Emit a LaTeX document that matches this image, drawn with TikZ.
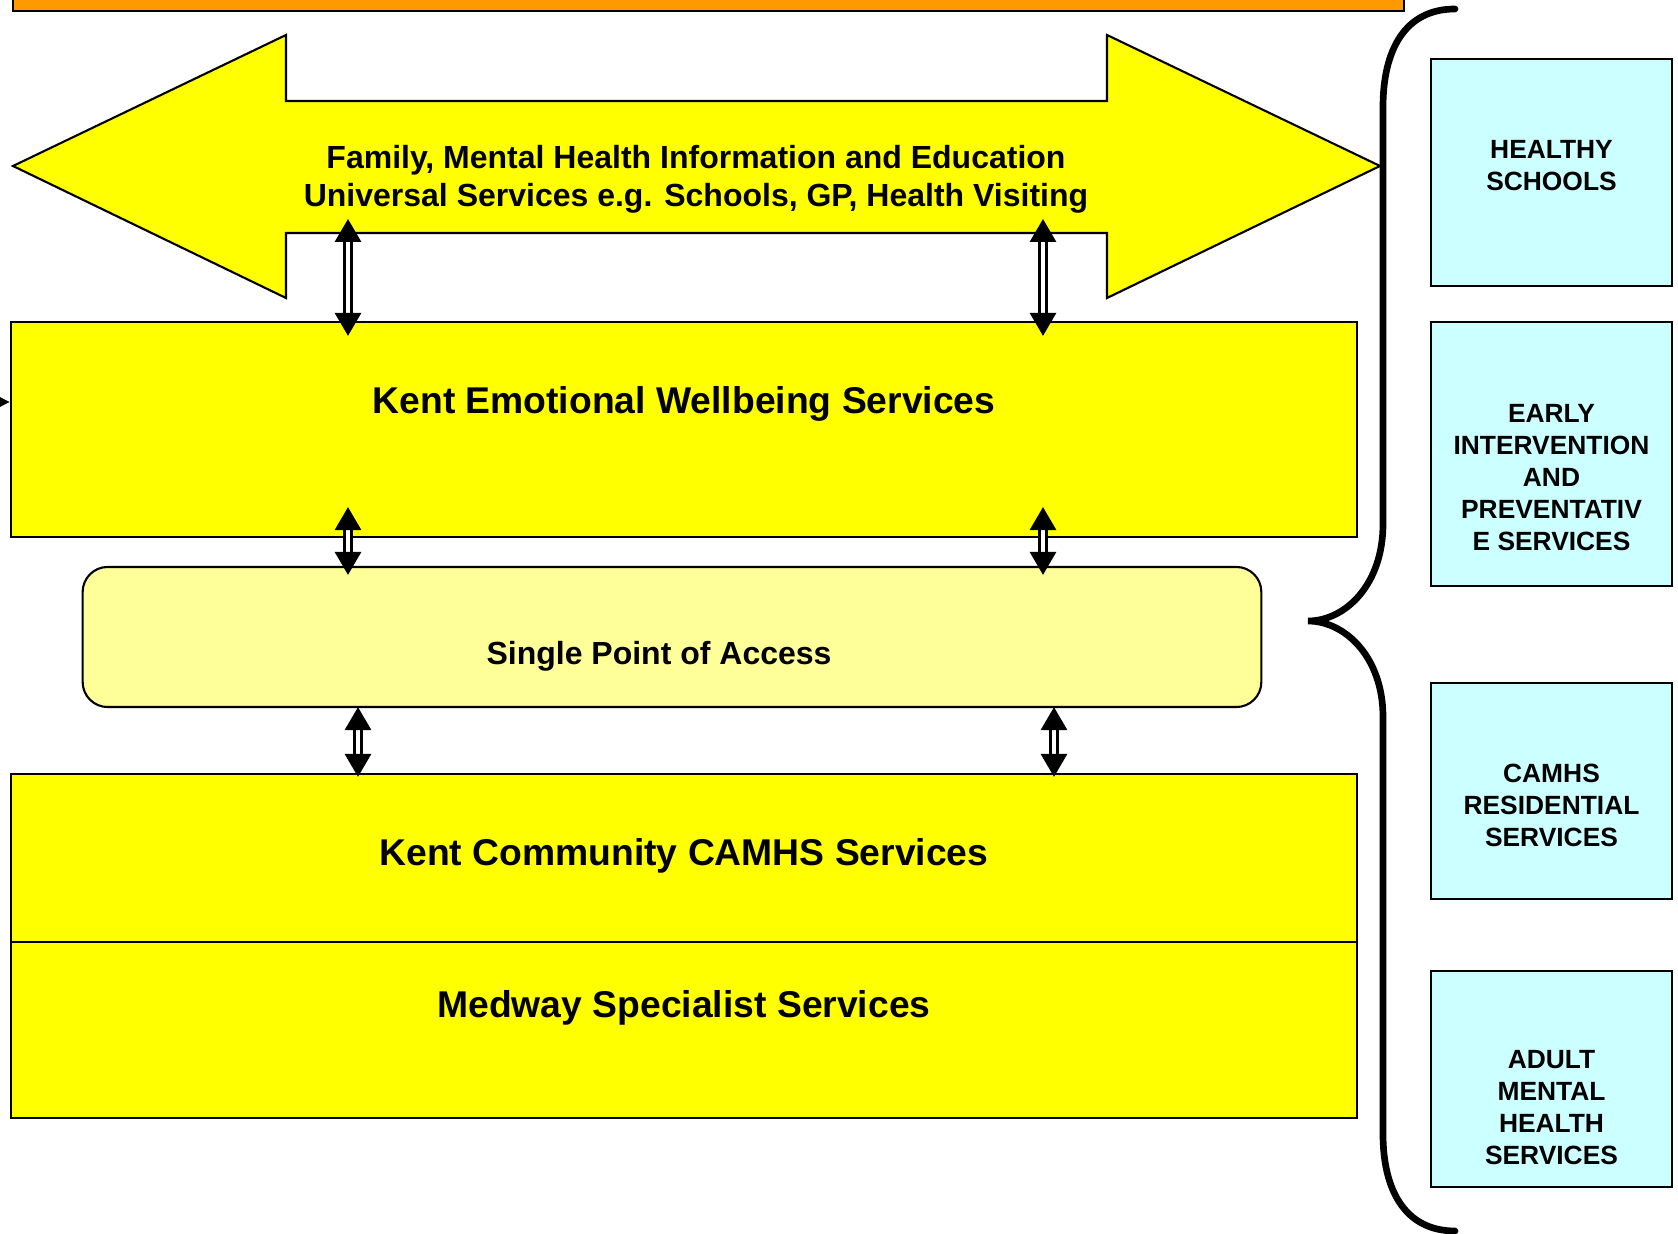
\documentclass[tikz,border=0pt]{standalone}
\usepackage{fontspec}
\setmainfont{Liberation Sans}
\usepackage{tikz}
\usetikzlibrary{
  arrows.meta,
  positioning,
  calc
}
\definecolor{bandorange}{RGB}{255,153,0}
\definecolor{tieryellow}{RGB}{255,255,0}
\definecolor{accesscream}{RGB}{255,255,153}
\definecolor{sidecyan}{RGB}{204,255,255}

\begin{document}
\begin{tikzpicture}[
  x=0.01cm, y=-0.01cm,
  tier box/.style={draw, line width=0.6pt, fill=tieryellow, minimum width=13.46cm, inner sep=0pt},
  tier label/.style={font=\bfseries\fontsize{10.6}{12}\selectfont},
  side box/.style={draw, line width=0.6pt, fill=sidecyan, minimum width=2.41cm, inner sep=0pt},
  side label/.style={font=\bfseries\fontsize{7.5}{9.1}\selectfont, align=center},
  link/.style={double, double distance=1.2pt, line width=0.9pt,
    {Triangle[length=0.23cm, width=0.26cm]}-{Triangle[length=0.23cm, width=0.26cm]}},
]

\clip (0,0) rectangle (1678,1234);

% Orange band along the top edge
\draw[fill=bandorange, line width=0.6pt] (13,-20) rectangle (1404,11);

% Two-headed banner arrow
\draw[fill=tieryellow, line width=0.6pt]
  (13,166) -- (286,35) -- (286,101) -- (1107,101) -- (1107,35) -- (1380,166)
  -- (1107,298) -- (1107,233) -- (286,233) -- (286,298) -- cycle;
\coordinate (shaft) at (696,233);
\node[align=center, font=\bfseries\fontsize{9.1}{10.8}\selectfont] (banner) at (696,179)
  {Family, Mental Health Information and Education\\
   Universal Services e.g. Schools, GP, Health Visiting};

% Service tiers
\node[tier box, minimum height=2.15cm] (kews) at (684,429.5) {};
\node[tier label] (kews text) at (684,404) {Kent Emotional Wellbeing Services};

\node[draw, line width=0.6pt, fill=accesscream, rounded corners=0.25cm,
  minimum width=11.78cm, minimum height=1.4cm] (spa) at (672,637) {};
\node[font=\bfseries\fontsize{9.1}{11}\selectfont] (spa text) at (659,656)
  {Single Point of Access};

\node[tier box, minimum height=1.68cm] (kcc) at (684,858) {};
\node[tier label] (kcc text) at (684,856) {Kent Community CAMHS Services};

\node[tier box, minimum height=1.76cm] (med) at (684,1030) {};
\node[tier label] (med text) at (684,1008) {Medway Specialist Services};

% Feed arrow on the left edge
\coordinate (feed) at (-10,402);
\draw[-{Triangle[length=0.12cm, width=0.12cm]}] (feed) -- (feed -| kews.west);

% Links between tiers
\coordinate (colA) at (348,0);
\coordinate (colB) at (1043,0);
\coordinate (colC) at (358,0);
\coordinate (colD) at (1054,0);

\draw[link, shorten <=-0.14cm, shorten >=-0.15cm] (colA |- shaft) -- (colA |- kews.north);
\draw[link, shorten <=-0.14cm, shorten >=-0.15cm] (colB |- shaft) -- (colB |- kews.north);
\draw[link, shorten <=-0.31cm, shorten >=-0.09cm] (colA |- kews.south) -- (colA |- spa.north);
\draw[link, shorten <=-0.31cm, shorten >=-0.09cm] (colB |- kews.south) -- (colB |- spa.north);
\draw[link, shorten <=-0.01cm, shorten >=-0.04cm] (colC |- spa.south) -- (colC |- kcc.north);
\draw[link, shorten <=-0.01cm, shorten >=-0.04cm] (colD |- spa.south) -- (colD |- kcc.north);

% Brace grouping the side services
\draw[line width=1.9pt, line cap=round]
  (1455,9) .. controls (1405,9) and (1383,50) .. (1383,107)
  -- (1383,524)
  .. controls (1383,585) and (1345,621) .. (1308,621)
  .. controls (1345,621) and (1383,657) .. (1383,717)
  -- (1383,1134)
  .. controls (1383,1190) and (1405,1231) .. (1455,1231);

% Side services
\node[side box, minimum height=2.27cm] (hs) at (1551.5,172.5) {};
\node[side label] (hs text) at (1551.5,166) {HEALTHY\\SCHOOLS};

\node[side box, minimum height=2.64cm] (eip) at (1551.5,454) {};
\node[side label] (eip text) at (1551.5,478)
  {EARLY\\INTERVENTION\\AND\\PREVENTATIV\\E SERVICES};

\node[side box, minimum height=2.16cm] (res) at (1551.5,791) {};
\node[side label] (res text) at (1551.5,805) {CAMHS\\RESIDENTIAL\\SERVICES};

\node[side box, minimum height=2.16cm] (amh) at (1551.5,1079) {};
\node[side label] (amh text) at (1551.5,1108) {ADULT\\MENTAL\\HEALTH\\SERVICES};

\end{tikzpicture}
\end{document}
